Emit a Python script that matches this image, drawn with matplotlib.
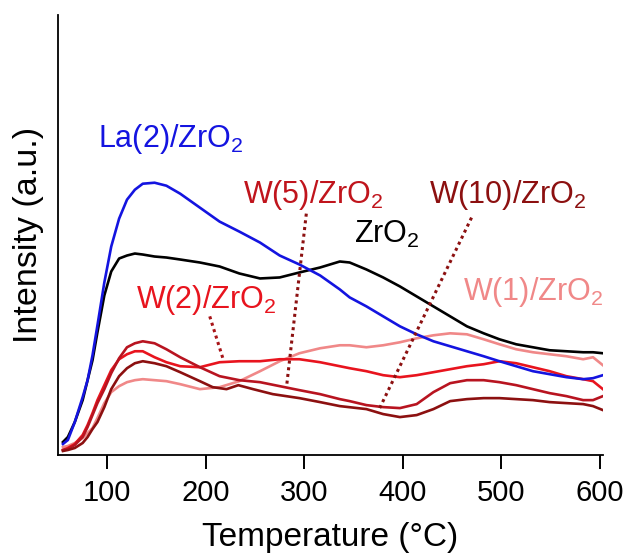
import matplotlib
matplotlib.use("Agg")
import matplotlib.pyplot as plt

plt.rcParams['font.family'] = ['Liberation Sans', 'DejaVu Sans']
plt.rcParams['mathtext.default'] = 'regular'


# temperature grid (degC) shared by most curves
temp = [55, 60, 67, 75, 80, 85, 90, 97, 104, 112, 120, 128, 136, 148, 160, 174,
        194, 214, 234, 255, 275, 295, 316, 336, 346, 363, 380, 397, 414, 431,
        448, 465, 482, 498, 515, 532, 549, 566, 583, 593, 603]

la2 = [11, 15, 33, 58, 75, 100, 130, 173, 209, 237, 256, 266, 272, 273, 270, 262,
       248, 234, 224, 213, 200, 191, 180, 166, 158, 149, 139, 129, 121, 114,
       109, 104, 99, 94, 89, 84, 81, 78, 76, 77, 80]

zro2 = [13, 18, 33, 55, 75, 95, 123, 160, 184, 197, 200, 202, 201, 199, 198, 196,
        193, 189, 182, 177, 178, 183, 188, 194, 193, 186, 178, 169, 159, 149,
        139, 129, 122, 116, 111, 108, 105, 104, 103, 103, 102]

w1 = [8, 9, 12, 17, 22, 27, 37, 52, 63, 69, 73, 75, 76, 75, 74, 71,
      66, 68, 74, 84, 94, 102, 107, 110, 110, 108, 110, 113, 117, 120,
      122, 121, 116, 111, 106, 103, 101, 99, 96, 98, 90]

w2 = [5, 7, 11, 20, 30, 42, 55, 70, 85, 96, 101, 104, 104, 98, 93, 89,
      88, 93, 94, 94, 96, 96, 93, 89, 87, 84, 80, 78, 80, 83,
      86, 89, 91, 94, 92, 88, 84, 79, 76, 74, 66]

w5 = [5, 6, 10, 18, 28, 40, 52, 66, 82, 97, 108, 112, 114, 112, 106, 98,
      88, 79, 75, 73, 69, 65, 61, 56, 54, 50, 48, 47, 51, 63,
      72, 75, 75, 73, 70, 66, 62, 59, 55, 55, 59]

temp_w10 = [55, 60, 67, 75, 80, 85, 90, 97, 104, 112, 120, 128, 136, 148, 160, 174,
            194, 207, 221, 233, 248, 268, 295, 316, 336, 363, 380, 397, 414, 431,
            448, 465, 482, 498, 515, 532, 549, 566, 583, 593, 603]
w10 = [4, 5, 7, 12, 18, 26, 33, 48, 66, 79, 87, 92, 94, 92, 89, 83,
       74, 68, 66, 70, 66, 61, 57, 53, 49, 46, 41, 38, 40, 46,
       54, 56, 57, 57, 56, 55, 53, 52, 51, 49, 45]

c_la2 = "#1414E0"
c_zro2 = "#000000"
c_w1 = "#F08888"
c_w2 = "#E8141E"
c_w5 = "#B81420"
c_w10 = "#8C1010"

# labels: text, colour, (T, I) of baseline-left
labels = [
    (r"La(2)/ZrO$_2$", c_la2, 90.7, 309),
    (r"W(5)/ZrO$_2$", "#C0141C", 238, 252.5),
    (r"W(10)/ZrO$_2$", c_w10, 427, 252.5),
    (r"ZrO$_2$", c_zro2, 350.6, 213),
    (r"W(2)/ZrO$_2$", c_w2, 129.6, 147.5),
    (r"W(1)/ZrO$_2$", c_w1, 461, 155),
]

# dotted pointers from labels to curves: (T0, I0, T1, I1, colour)
pointers = [
    (204, 139, 217.6, 96, "#A81418"),
    (302, 242, 282, 69, c_w10),
    (469.7, 238, 375, 44, c_w10),
]


fig = plt.figure(figsize=(6.28, 5.56), dpi=100)
ax = fig.add_axes([0.0924, 0.1817, 0.8676, 0.791])

lw = 1.9
ax.plot(temp, w1, color=c_w1, lw=lw)
ax.plot(temp, w2, color=c_w2, lw=lw)
ax.plot(temp, w5, color=c_w5, lw=lw)
ax.plot(temp_w10, w10, color=c_w10, lw=lw)
ax.plot(temp, zro2, color=c_zro2, lw=lw)
ax.plot(temp, la2, color=c_la2, lw=lw)

for t0, i0, t1, i1, c in pointers:
    ax.plot([t0, t1], [i0, i1], color=c, lw=2.2, linestyle=(0, (1, 1.2)))

for txt, c, t, i in labels:
    ax.text(t, i, txt, color=c, fontsize=22, ha='left', va='baseline')

ax.set_xlim(50, 603)
ax.set_ylim(0, 441)

for s in ['top', 'right']:
    ax.spines[s].set_visible(False)
ax.spines['left'].set_linewidth(1.3)
ax.spines['bottom'].set_linewidth(1.3)

ax.set_xticks([100, 200, 300, 400, 500, 600])
ax.set_yticks([])
ax.tick_params(axis='x', direction='out', length=10, width=1.4, labelsize=21, pad=7)

ax.set_xlabel("Temperature (°C)", fontsize=24, labelpad=11)
ax.set_ylabel("Intensity (a.u.)", fontsize=24.5, labelpad=10)

fig.savefig("out.png", dpi=100)
